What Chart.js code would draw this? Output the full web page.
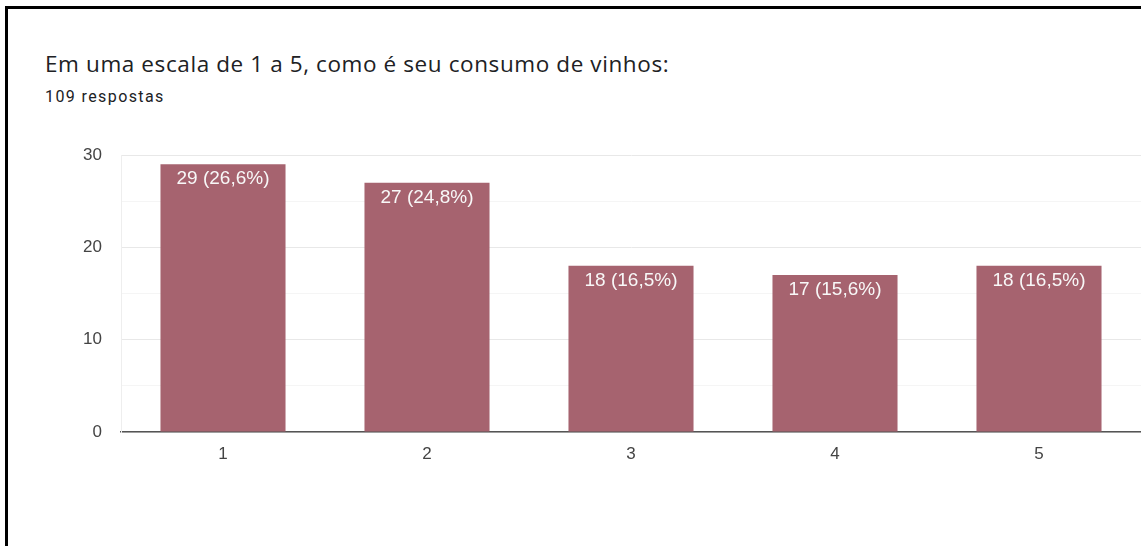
<!DOCTYPE html>
<html>
<head>
<meta charset="utf-8">
<script src="https://cdn.jsdelivr.net/npm/chart.js@4.4.0/dist/chart.umd.min.js"></script>
<style>
  html, body { margin: 0; padding: 0; background: #fff; }
  body { width: 1141px; height: 546px; position: relative; overflow: hidden; font-family: Roboto, Arial, sans-serif; }
  .lineTop { position: absolute; left: 5px; top: 6px; width: 1136px; height: 3px; background: #000; }
  .lineLeft { position: absolute; left: 5px; top: 6px; width: 3px; height: 540px; background: #000; }
  .title { position: absolute; left: 45px; top: 48px; font-family: "Open Sans", Roboto, sans-serif; font-size: 22.5px; letter-spacing: 0.6px; color: #202124; white-space: nowrap; }
  .sub { position: absolute; left: 45px; top: 87px; font-size: 16px; letter-spacing: 1.4px; color: #202124; white-space: nowrap; }
  #chartWrap { position: absolute; left: 0; top: 0; width: 1141px; height: 546px; }
</style>
</head>
<body>
<div class="lineTop"></div>
<div class="lineLeft"></div>
<div class="title">Em uma escala de 1 a 5, como é seu consumo de vinhos:</div>
<div class="sub">109 respostas</div>
<div id="chartWrap"><canvas id="chart"></canvas></div>
<script>
const categories = ["1", "2", "3", "4", "5"];
const counts = [29, 27, 18, 17, 18];
const barLabels = ["29 (26,6%)", "27 (24,8%)", "18 (16,5%)", "17 (15,6%)", "18 (16,5%)"];
const yTicks = [0, 10, 20, 30];

const barColor = "#a6636f";
const axisFont = "'Liberation Sans', Arial, sans-serif";

// draws the "n (pct%)" text inside the top of each bar
const barLabelPlugin = {
  id: "barLabels",
  afterDatasetsDraw(chart) {
    const ctx = chart.ctx;
    const meta = chart.getDatasetMeta(0);
    ctx.save();
    ctx.fillStyle = "#f8f8f8";
    ctx.font = "19px " + axisFont;
    ctx.textAlign = "center";
    ctx.textBaseline = "middle";
    meta.data.forEach((bar, i) => {
      ctx.fillText(barLabels[i], bar.x, bar.y + 15);
    });
    ctx.restore();
  }
};

new Chart(document.getElementById("chart"), {
  type: "bar",
  data: {
    labels: categories,
    datasets: [{
      data: counts,
      backgroundColor: barColor,
      borderWidth: 0,
      barPercentage: 0.613,
      categoryPercentage: 1
    }]
  },
  options: {
    responsive: true,
    maintainAspectRatio: false,
    animation: false,
    layout: { padding: { left: 0, right: 0, top: 155, bottom: 0 } },
    plugins: {
      legend: { display: false },
      tooltip: { enabled: false }
    },
    scales: {
      x: {
        grid: { display: false, drawTicks: false },
        border: { display: true, color: "#555555", width: 1.5 },
        ticks: { color: "#444444", font: { size: 17, family: axisFont }, padding: 12 },
        afterFit(scale) { scale.height = 114; }
      },
      y: {
        min: 0,
        max: 30,
        border: { display: true, color: "#eeeeee" },
        grid: {
          drawTicks: false,
          color(c) {
            return yTicks.includes(c.tick.value) ? "#e8e8e8" : "#f5f5f5";
          }
        },
        ticks: {
          stepSize: 5,
          padding: 19,
          color: "#444444",
          font: { size: 17, family: axisFont },
          callback(v) { return yTicks.includes(v) ? v : ""; }
        },
        afterFit(scale) { scale.width = 121; }
      }
    }
  },
  plugins: [barLabelPlugin]
});
</script>
</body>
</html>
